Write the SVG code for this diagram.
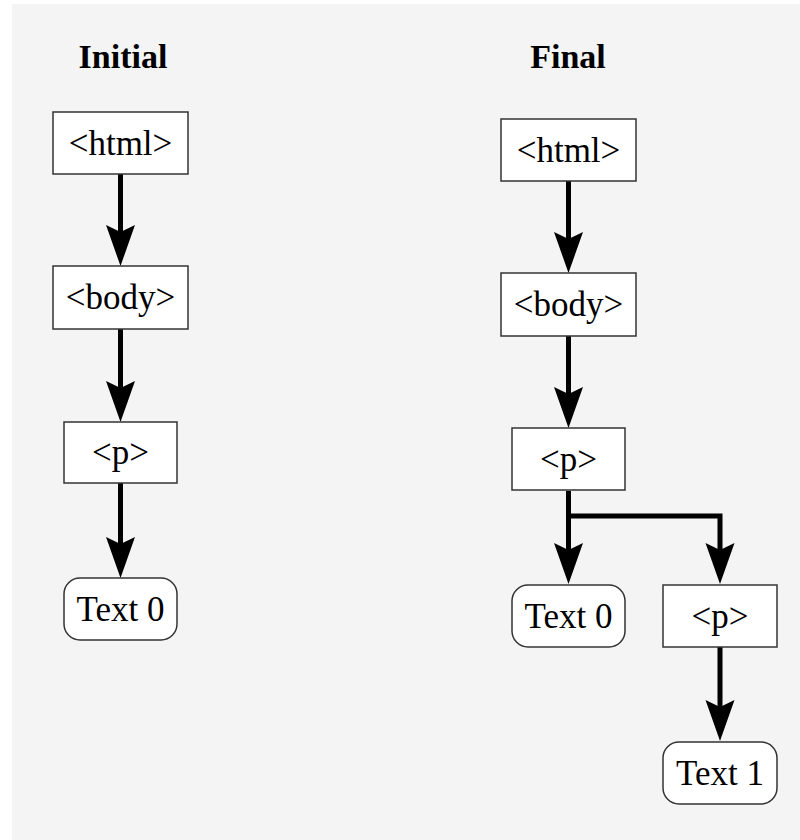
<svg xmlns="http://www.w3.org/2000/svg" width="800" height="840" viewBox="0 0 800 840">
  <style>
    .box { fill: #ffffff; stroke: #333333; stroke-width: 1.5; }
    .lbl { font-family: "Liberation Serif", "Times New Roman", "DejaVu Serif", serif; font-size: 35px; fill: #000000; text-anchor: middle; }
    .title { font-family: "Liberation Serif", "Times New Roman", "DejaVu Serif", serif; font-size: 34px; font-weight: bold; fill: #000000; text-anchor: middle; }
    .edge { fill: none; stroke: #000000; stroke-width: 5; }
  </style>
  <defs>
    <marker id="arrow" markerUnits="userSpaceOnUse" viewBox="0 -15 42 30" refX="10" refY="0" markerWidth="42" markerHeight="30" orient="auto">
      <path d="M0,-14.5 L41,0 L0,14.5 L7,0 Z" fill="#000000"/>
    </marker>
  </defs>
  <rect x="12" y="4" width="788" height="836" fill="#f4f4f4"/>

  <text class="title" x="123" y="68">Initial</text>
  <text class="title" x="568" y="68">Final</text>

  <g id="connectors">
    <path class="edge" d="M120.5,174 V235" marker-end="url(#arrow)"/>
    <path class="edge" d="M120.5,329 V391" marker-end="url(#arrow)"/>
    <path class="edge" d="M120.5,483 V547" marker-end="url(#arrow)"/>
    <path class="edge" d="M568.5,181 V242" marker-end="url(#arrow)"/>
    <path class="edge" d="M568.5,336 V397" marker-end="url(#arrow)"/>
    <path class="edge" d="M568.5,491 V553" marker-end="url(#arrow)"/>
    <path class="edge" d="M568.5,516 H720 V553" marker-end="url(#arrow)"/>
    <path class="edge" d="M720,647 V710" marker-end="url(#arrow)"/>
  </g>

  <g id="init-html">
    <rect class="box" x="53" y="112" width="135" height="62"/>
    <text class="lbl" x="120.5" y="155">&lt;html&gt;</text>
  </g>
  <g id="init-body">
    <rect class="box" x="53" y="266" width="135" height="63"/>
    <text class="lbl" x="120.5" y="309">&lt;body&gt;</text>
  </g>
  <g id="init-p">
    <rect class="box" x="64" y="422" width="113" height="61"/>
    <text class="lbl" x="120.5" y="464">&lt;p&gt;</text>
  </g>
  <g id="init-text0">
    <rect class="box" x="64" y="578" width="113" height="62" rx="16" ry="16"/>
    <text class="lbl" x="120.5" y="621">Text 0</text>
  </g>

  <g id="final-html">
    <rect class="box" x="501" y="119" width="135" height="62"/>
    <text class="lbl" x="568.5" y="162">&lt;html&gt;</text>
  </g>
  <g id="final-body">
    <rect class="box" x="501" y="273" width="135" height="63"/>
    <text class="lbl" x="568.5" y="316">&lt;body&gt;</text>
  </g>
  <g id="final-p">
    <rect class="box" x="512" y="428" width="113" height="62"/>
    <text class="lbl" x="568.5" y="471">&lt;p&gt;</text>
  </g>
  <g id="final-text0">
    <rect class="box" x="512" y="585" width="113" height="62" rx="16" ry="16"/>
    <text class="lbl" x="568.5" y="628">Text 0</text>
  </g>
  <g id="final-p2">
    <rect class="box" x="663" y="585" width="114" height="62"/>
    <text class="lbl" x="720" y="628">&lt;p&gt;</text>
  </g>
  <g id="final-text1">
    <rect class="box" x="663" y="742" width="114" height="62" rx="16" ry="16"/>
    <text class="lbl" x="720" y="785">Text 1</text>
  </g>
</svg>
